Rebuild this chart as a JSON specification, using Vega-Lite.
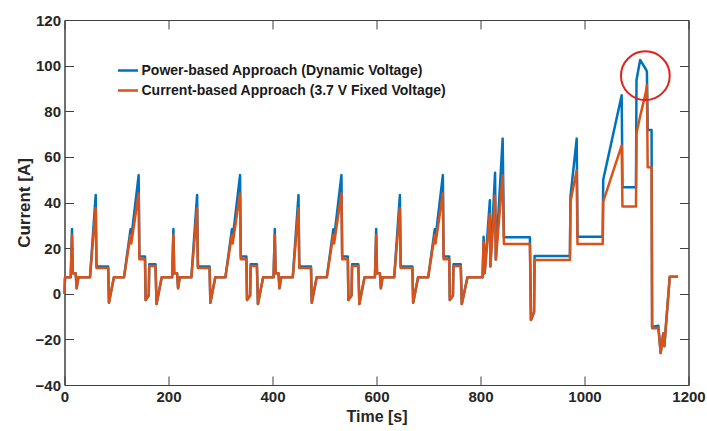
{
  "$schema": "https://vega.github.io/schema/vega-lite/v6.json",
  "width": 624,
  "height": 365,
  "autosize": {"type": "none"},
  "padding": {"left": 64.5, "top": 20, "right": 18.5, "bottom": 46},
  "background": "white",
  "config": {
    "font": "Liberation Sans",
    "view": {"stroke": "#404040", "strokeWidth": 1},
    "axis": {
      "grid": false,
      "domainColor": "#404040",
      "tickColor": "#404040",
      "tickSize": -9,
      "labelFontSize": 15,
      "labelFontWeight": "bold",
      "labelColor": "#262626",
      "titleFontWeight": "bold",
      "titleColor": "#262626",
      "labelFlush": false,
      "labelOverlap": false
    }
  },
  "datasets": {
    "d": [
      {"t": 0, "p": 0, "c": 0},
      {"t": 1, "p": 7.2, "c": 7.2},
      {"t": 12, "p": 7.2, "c": 7.2},
      {"t": 14.4, "p": 28.4, "c": 25.8},
      {"t": 16, "p": 9, "c": 9},
      {"t": 21.5, "p": 9, "c": 9},
      {"t": 23.4, "p": 2.4, "c": 2.4},
      {"t": 26.6, "p": 7.2, "c": 7.2},
      {"t": 49, "p": 7.2, "c": 7.2},
      {"t": 60, "p": 43.3, "c": 37.5},
      {"t": 61.5, "p": 11.9, "c": 11.3},
      {"t": 84, "p": 11.9, "c": 11.3},
      {"t": 85.5, "p": -3.9, "c": -3.9},
      {"t": 95, "p": 7.2, "c": 7.2},
      {"t": 114.4, "p": 7.2, "c": 7.2},
      {"t": 127, "p": 28.3, "c": 25.8},
      {"t": 128.5, "p": 24.5, "c": 22},
      {"t": 142.6, "p": 52, "c": 44},
      {"t": 144, "p": 16.3, "c": 15.1},
      {"t": 154.8, "p": 16.3, "c": 15.1},
      {"t": 156, "p": -2.7, "c": -2.7},
      {"t": 162, "p": -0.8, "c": -0.8},
      {"t": 163, "p": 12.9, "c": 12.2},
      {"t": 175, "p": 12.9, "c": 12.2},
      {"t": 177, "p": -4.5, "c": -4.5},
      {"t": 187, "p": 7.2, "c": 7.2},
      {"t": 207, "p": 7.2, "c": 7.2},
      {"t": 209.4, "p": 28.4, "c": 25.8},
      {"t": 211, "p": 9, "c": 9},
      {"t": 216.5, "p": 9, "c": 9},
      {"t": 218.4, "p": 2.4, "c": 2.4},
      {"t": 221.6, "p": 7.2, "c": 7.2},
      {"t": 244, "p": 7.2, "c": 7.2},
      {"t": 255, "p": 43.3, "c": 37.5},
      {"t": 256.5, "p": 11.9, "c": 11.3},
      {"t": 279, "p": 11.9, "c": 11.3},
      {"t": 280.5, "p": -3.9, "c": -3.9},
      {"t": 290, "p": 7.2, "c": 7.2},
      {"t": 309.4, "p": 7.2, "c": 7.2},
      {"t": 322, "p": 28.3, "c": 25.8},
      {"t": 323.5, "p": 24.5, "c": 22},
      {"t": 337.6, "p": 52, "c": 44},
      {"t": 339, "p": 16.3, "c": 15.1},
      {"t": 349.8, "p": 16.3, "c": 15.1},
      {"t": 351, "p": -2.7, "c": -2.7},
      {"t": 357, "p": -0.8, "c": -0.8},
      {"t": 358, "p": 12.9, "c": 12.2},
      {"t": 370, "p": 12.9, "c": 12.2},
      {"t": 372, "p": -4.5, "c": -4.5},
      {"t": 382, "p": 7.2, "c": 7.2},
      {"t": 402, "p": 7.2, "c": 7.2},
      {"t": 404.4, "p": 28.4, "c": 25.8},
      {"t": 406, "p": 9, "c": 9},
      {"t": 411.5, "p": 9, "c": 9},
      {"t": 413.4, "p": 2.4, "c": 2.4},
      {"t": 416.6, "p": 7.2, "c": 7.2},
      {"t": 439, "p": 7.2, "c": 7.2},
      {"t": 450, "p": 43.3, "c": 37.5},
      {"t": 451.5, "p": 11.9, "c": 11.3},
      {"t": 474, "p": 11.9, "c": 11.3},
      {"t": 475.5, "p": -3.9, "c": -3.9},
      {"t": 485, "p": 7.2, "c": 7.2},
      {"t": 504.4, "p": 7.2, "c": 7.2},
      {"t": 517, "p": 28.3, "c": 25.8},
      {"t": 518.5, "p": 24.5, "c": 22},
      {"t": 532.6, "p": 52, "c": 44},
      {"t": 534, "p": 16.3, "c": 15.1},
      {"t": 544.8, "p": 16.3, "c": 15.1},
      {"t": 546, "p": -2.7, "c": -2.7},
      {"t": 552, "p": -0.8, "c": -0.8},
      {"t": 553, "p": 12.9, "c": 12.2},
      {"t": 565, "p": 12.9, "c": 12.2},
      {"t": 567, "p": -4.5, "c": -4.5},
      {"t": 577, "p": 7.2, "c": 7.2},
      {"t": 597, "p": 7.2, "c": 7.2},
      {"t": 599.4, "p": 28.4, "c": 25.8},
      {"t": 601, "p": 9, "c": 9},
      {"t": 606.5, "p": 9, "c": 9},
      {"t": 608.4, "p": 2.4, "c": 2.4},
      {"t": 611.6, "p": 7.2, "c": 7.2},
      {"t": 634, "p": 7.2, "c": 7.2},
      {"t": 645, "p": 43.3, "c": 37.5},
      {"t": 646.5, "p": 11.9, "c": 11.3},
      {"t": 669, "p": 11.9, "c": 11.3},
      {"t": 670.5, "p": -3.9, "c": -3.9},
      {"t": 680, "p": 7.2, "c": 7.2},
      {"t": 699.4, "p": 7.2, "c": 7.2},
      {"t": 712, "p": 28.3, "c": 25.8},
      {"t": 713.5, "p": 24.5, "c": 22},
      {"t": 727.6, "p": 52, "c": 44},
      {"t": 729, "p": 16.3, "c": 15.1},
      {"t": 739.8, "p": 16.3, "c": 15.1},
      {"t": 741, "p": -2.7, "c": -2.7},
      {"t": 747, "p": -0.8, "c": -0.8},
      {"t": 748, "p": 12.9, "c": 12.2},
      {"t": 762, "p": 12.9, "c": 12.2},
      {"t": 764, "p": -4.5, "c": -4.5},
      {"t": 775, "p": 7.2, "c": 7.2},
      {"t": 804, "p": 7.2, "c": 7.2},
      {"t": 806, "p": 25, "c": 22.8},
      {"t": 808, "p": 9, "c": 9},
      {"t": 818, "p": 41, "c": 35},
      {"t": 819, "p": 12, "c": 12},
      {"t": 828, "p": 53, "c": 43},
      {"t": 829.5, "p": 15, "c": 15},
      {"t": 842.6, "p": 68, "c": 52},
      {"t": 845, "p": 24.8, "c": 21.8},
      {"t": 895, "p": 24.8, "c": 21.8},
      {"t": 897, "p": -11.5, "c": -11.5},
      {"t": 903, "p": -8, "c": -8},
      {"t": 904, "p": 16.6, "c": 14.8},
      {"t": 972, "p": 16.6, "c": 14.8},
      {"t": 973, "p": 42.6, "c": 40.4},
      {"t": 985, "p": 68, "c": 54},
      {"t": 986.5, "p": 25, "c": 21.8},
      {"t": 1035, "p": 25, "c": 21.8},
      {"t": 1036, "p": 50, "c": 40.4},
      {"t": 1071.5, "p": 87, "c": 65},
      {"t": 1073, "p": 46.7, "c": 38.2},
      {"t": 1099, "p": 46.7, "c": 38.2},
      {"t": 1100, "p": 93.7, "c": 70.4},
      {"t": 1107, "p": 102.5, "c": 77.8},
      {"t": 1118, "p": 98.4, "c": 88.4},
      {"t": 1120, "p": 97.4, "c": 91.5},
      {"t": 1121.5, "p": 71.8, "c": 55.5},
      {"t": 1129, "p": 71.8, "c": 55.5},
      {"t": 1130, "p": -14.6, "c": -15.1},
      {"t": 1142, "p": -14, "c": -15},
      {"t": 1146.5, "p": -26, "c": -26},
      {"t": 1151.5, "p": -17.3, "c": -17.3},
      {"t": 1153.5, "p": -23, "c": -23},
      {"t": 1164, "p": 7.5, "c": 7.5},
      {"t": 1180, "p": 7.5, "c": 7.5}
    ],
    "circ": [{"t": 1117, "v": 95.6}]
  },
  "layer": [
    {
      "data": {"name": "d"},
      "mark": {"type": "line", "strokeWidth": 2.5, "strokeJoin": "round"},
      "encoding": {
        "x": {
          "field": "t", "type": "quantitative",
          "scale": {"domain": [0, 1200], "nice": false, "zero": false},
          "axis": {"orient": "bottom", "values": [0, 200, 400, 600, 800, 1000, 1200], "format": "d", "title": "Time [s]", "labelPadding": 13, "titleFontSize": 16, "titlePadding": 4}
        },
        "y": {
          "field": "p", "type": "quantitative",
          "scale": {"domain": [-40, 120], "nice": false, "zero": false},
          "axis": {"orient": "left", "values": [-40, -20, 0, 20, 40, 60, 80, 100, 120], "format": "d", "title": "Current [A]", "labelPadding": 13, "titleFontSize": 17, "titlePadding": 2}
        },
        "color": {
          "datum": "Power-based Approach (Dynamic Voltage)",
          "scale": {"domain": ["Power-based Approach (Dynamic Voltage)", "Current-based Approach (3.7 V Fixed Voltage)"], "range": ["#0072BD", "#D95319"]},
          "legend": {
            "orient": "none", "legendX": 52, "legendY": 39, "title": null,
            "symbolType": "stroke", "symbolSize": 400, "symbolStrokeWidth": 2.5,
            "labelFontSize": 14, "labelFontWeight": "bold", "labelColor": "#1a1a1a",
            "labelLimit": 0, "labelOffset": 2, "rowPadding": 1, "padding": 0
          }
        }
      }
    },
    {
      "data": {"name": "d"},
      "mark": {"type": "line", "strokeWidth": 2.5, "strokeJoin": "round"},
      "encoding": {
        "x": {
          "field": "t", "type": "quantitative",
          "axis": {"orient": "top", "values": [0, 200, 400, 600, 800, 1000, 1200], "labels": false, "title": null}
        },
        "y": {
          "field": "c", "type": "quantitative",
          "axis": {"orient": "right", "values": [-40, -20, 0, 20, 40, 60, 80, 100, 120], "labels": false, "title": null}
        },
        "color": {"datum": "Current-based Approach (3.7 V Fixed Voltage)"}
      }
    },
    {
      "data": {"name": "circ"},
      "mark": {"type": "point", "shape": "circle", "filled": false, "color": "#E2211C", "strokeWidth": 2, "size": 2376, "opacity": 1},
      "encoding": {
        "x": {"field": "t", "type": "quantitative", "axis": null},
        "y": {"field": "v", "type": "quantitative", "axis": null}
      }
    }
  ],
  "resolve": {"axis": {"x": "independent", "y": "independent"}}
}
